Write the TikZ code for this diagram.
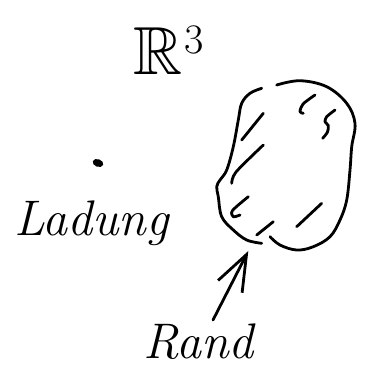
\documentclass[tikz,border=0pt]{standalone}
\usepackage{amssymb}
\usetikzlibrary{arrows.meta}
\begin{document}
\begin{tikzpicture}[x=1pt,y=-1pt,
  ink/.style={line width=2.8pt,line cap=round,line join=round,black},
  label/.style={inner sep=0pt,font=\itshape\fontsize{50}{50}\selectfont}]
\useasboundingbox (0,0) rectangle (369,368);

% space label: R^3 with a hand-sized exponent
\node[inner sep=0pt,anchor=base west] (space) at (133,74)
  {\fontsize{68}{68}\selectfont$\mathbb{R}$\kern2pt\raisebox{21pt}{\fontsize{42}{42}\selectfont 3}};

% point charge and its label
\fill[rotate around={-20:(98,163)}] (98,163) ellipse (5.5pt and 3.8pt);
\node[label,anchor=base west] (ladung) at (14,235) {Ladung};

% region: boundary in two strokes
\draw[ink] plot[smooth,tension=0.6] coordinates {(276.7,85) (300,80.7) (326.7,86.7) (346.7,103.3) (355,123.3) (351.7,146.7) (350,170) (346.7,200) (340,220) (330,236.7) (313.3,246.7) (296.7,250) (280,245) (270,236.7)};
\draw[ink] plot[smooth,tension=0.6] coordinates {(261.7,88.3) (250,93.3) (241.7,103.3) (238.3,120) (233.3,146.7) (226.7,170) (220,180) (216.7,186.7) (218.3,196.7) (221.7,216.7) (233.3,230) (246.7,240) (261.7,243.3)};

% interior hatching
\draw[ink] (263.3,113.3) -- (241.7,140);
\draw[ink] plot[smooth,tension=0.5] coordinates {(263.3,145) (236,172) (231.7,183.3)};
\draw[ink] plot[smooth,tension=0.5] coordinates {(248.3,196.7) (232.5,210.5) (233.3,216.7) (240,215)};
\draw[ink] (273.3,221.7) -- (256.7,235);
\draw[ink] (321.7,203.3) -- (296.7,226.7);
\draw[ink] plot[smooth,tension=0.5] coordinates {(315,95) (303,104) (300,111.7) (303.3,113.3)};
\draw[ink] plot[smooth,tension=0.5] coordinates {(335,110) (326.7,116.7) (325,121.7) (328.3,125.5) (327.5,132) (322.7,138.3)};

% boundary label and arrow
\node[label,anchor=base west] (rand) at (143,358) {Rand};
\coordinate (tail) at (213,320);
\coordinate (tip) at (248.3,251);
\draw[ink,-{Straight Barb[length=36pt,width=27pt,line width=2.8pt]}] (tail) -- (tip);
\end{tikzpicture}
\end{document}
